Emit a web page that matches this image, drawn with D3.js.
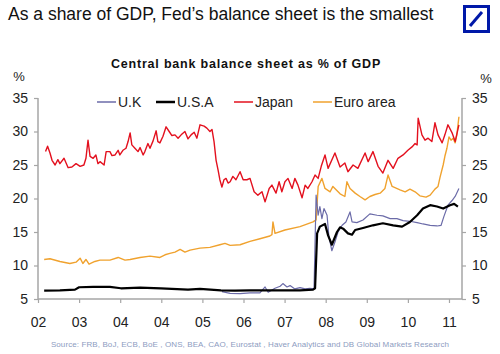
<!DOCTYPE html>
<html>
<head>
<meta charset="utf-8">
<script src="https://cdn.jsdelivr.net/npm/d3@7"></script>
<style>
  body { margin: 0; background: #fff; }
  text { font-family: "Liberation Sans", Arial, sans-serif; }
</style>
</head>
<body>
<div id="chart-area"></div>
<script>
const MARGIN = { LEFT: 38, RIGHT: 38, TOP: 98, BOTTOM: 55 }
const WIDTH = 500 - MARGIN.LEFT - MARGIN.RIGHT
const HEIGHT = 354 - MARGIN.TOP - MARGIN.BOTTOM

// months since start of axis, value in % of GDP
const tickLabels = ["02", "03", "04", "04", "05", "06", "07", "08", "09", "10", "11"]
const yTicks = [5, 10, 15, 20, 25, 30, 35]

const japan = [
  [2.2, 27.0], [2.8, 27.8], [3.5, 26.8], [4.1, 25.7], [5.0, 25.0], [5.8, 25.8], [6.4, 25.2], [7.6, 26.0],
  [8.8, 24.6], [9.9, 24.7], [11.1, 25.2], [12.3, 24.8], [13.4, 25.0], [14.0, 26.0], [14.6, 28.7], [15.2, 26.3],
  [16.1, 26.0], [16.9, 26.5], [17.5, 25.2], [18.1, 25.5], [19.3, 25.0], [19.9, 27.0], [21.0, 27.0], [21.6, 26.4],
  [22.5, 26.5], [23.4, 27.2], [23.9, 26.5], [24.8, 27.2], [25.7, 27.5], [26.3, 28.5], [26.9, 29.8], [27.4, 28.0],
  [28.3, 27.5], [29.2, 27.0], [29.8, 27.6], [30.7, 26.5], [31.2, 27.0], [32.1, 28.2], [32.7, 27.5], [33.6, 28.6],
  [34.5, 30.1], [35.0, 28.5], [35.6, 28.3], [36.5, 29.3], [37.4, 30.7], [38.3, 30.0], [39.1, 29.4], [40.0, 29.5],
  [40.9, 29.0], [41.8, 29.5], [42.9, 30.0], [43.8, 28.9], [44.7, 29.5], [45.6, 29.9], [46.4, 29.0], [47.3, 31.0],
  [48.5, 30.8], [49.3, 30.5], [50.2, 30.0], [50.8, 30.3], [51.4, 28.5], [52.0, 25.7], [52.6, 24.2], [53.1, 22.8],
  [53.7, 21.7], [54.3, 22.8], [54.9, 23.0], [55.5, 22.3], [56.1, 22.5], [56.9, 23.3], [57.8, 22.8], [59.0, 24.0],
  [59.9, 22.8], [61.0, 22.8], [61.9, 23.0], [63.1, 21.0], [64.2, 20.5], [65.4, 21.0], [66.3, 19.5], [67.5, 21.5],
  [68.3, 22.0], [69.5, 20.8], [70.4, 22.5], [71.2, 21.0], [72.1, 22.5], [73.0, 23.0], [74.2, 21.5], [75.0, 23.0],
  [75.9, 22.0], [77.1, 20.1], [78.0, 22.0], [78.8, 21.5], [80.0, 22.5], [80.9, 23.5], [81.8, 23.0], [82.7, 24.8],
  [83.8, 26.5], [84.7, 24.5], [86.7, 26.8], [88.2, 24.7], [89.6, 25.3], [90.5, 24.0], [92.0, 25.0], [93.4, 24.5],
  [95.5, 26.8], [96.4, 25.5], [97.8, 27.0], [99.3, 24.8], [100.7, 23.8], [102.2, 25.7], [103.7, 24.5], [105.1, 26.0],
  [106.6, 26.5], [108.0, 27.2], [109.2, 27.7], [110.1, 28.2], [110.7, 28.0], [111.0, 32.0], [112.1, 29.5], [113.0, 28.7],
  [113.9, 29.0], [115.0, 28.5], [115.9, 31.3], [116.8, 29.5], [118.0, 28.3], [118.8, 29.5], [119.7, 31.0], [120.9, 29.8],
  [121.8, 28.5], [122.9, 31.0]
]

const euro = [
  [1.8, 10.9], [3.5, 11.0], [6.4, 10.6], [9.3, 10.3], [11.1, 10.5], [12.3, 11.1], [13.1, 10.3], [14.0, 10.9],
  [14.9, 10.2], [16.6, 10.6], [18.1, 10.8], [21.0, 10.8], [23.4, 11.2], [25.4, 10.8], [26.9, 10.9], [29.8, 11.2],
  [32.7, 11.4], [35.6, 11.2], [37.1, 11.6], [38.5, 11.8], [40.0, 12.0], [41.5, 12.4], [42.9, 12.0], [44.4, 12.3],
  [47.3, 12.6], [50.2, 12.7], [53.1, 13.1], [54.6, 13.3], [56.1, 13.0], [59.0, 13.1], [61.9, 13.6], [64.8, 14.0],
  [67.7, 14.4], [68.3, 14.6], [68.6, 16.5], [69.2, 14.8], [72.1, 15.3], [76.5, 15.8], [80.3, 16.5], [81.2, 16.8],
  [81.8, 21.8], [82.9, 23.0], [83.8, 21.5], [85.3, 21.0], [86.1, 21.8], [88.2, 20.7], [89.6, 20.3], [90.2, 22.5],
  [91.1, 21.5], [92.6, 20.8], [94.0, 20.3], [95.5, 19.8], [96.9, 20.3], [98.4, 20.6], [99.9, 20.8], [101.3, 21.5],
  [102.2, 23.5], [103.4, 21.8], [105.7, 21.3], [107.2, 21.0], [108.6, 21.4], [110.1, 21.0], [111.5, 20.4], [113.3, 20.2],
  [114.5, 20.5], [115.9, 21.4], [116.8, 21.8], [117.4, 23.2], [118.3, 25.0], [118.8, 26.3], [119.4, 27.5], [120.0, 29.2],
  [120.6, 28.7], [121.2, 29.0], [121.8, 28.3], [122.3, 29.5], [122.9, 32.2]
]

const usa = [
  [1.8, 6.25], [6.4, 6.3], [10.8, 6.4], [12.0, 6.75], [16.1, 6.8], [21.0, 6.8], [24.2, 6.6], [29.8, 6.7],
  [35.9, 6.6], [43.8, 6.4], [47.3, 6.5], [53.4, 6.3], [57.5, 6.25], [61.9, 6.3], [70.7, 6.3], [76.5, 6.3],
  [80.3, 6.4], [80.9, 6.6], [81.5, 14.8], [82.3, 15.8], [83.8, 16.2], [84.7, 14.5], [85.8, 13.1], [87.3, 15.0],
  [88.2, 15.7], [89.1, 15.5], [90.5, 14.8], [91.7, 14.6], [92.6, 15.3], [94.9, 15.6], [97.8, 16.0], [100.7, 16.3],
  [103.7, 16.0], [106.3, 15.8], [108.6, 16.5], [110.7, 17.5], [112.4, 18.5], [114.5, 19.0], [116.5, 18.8], [118.3, 18.5],
  [120.3, 19.0], [121.5, 19.2], [122.6, 18.8]
]

const uk = [
  [53.7, 6.1], [56.1, 5.85], [59.0, 5.8], [61.9, 5.9], [64.8, 5.9], [66.3, 6.8], [67.2, 6.0], [69.2, 6.6],
  [70.7, 6.9], [71.5, 7.3], [72.7, 6.8], [73.6, 7.0], [75.0, 6.5], [76.5, 6.7], [78.0, 6.5], [79.4, 6.6],
  [80.6, 6.5], [81.2, 20.5], [81.8, 17.5], [82.3, 18.8], [82.9, 17.0], [83.5, 18.5], [84.4, 17.5], [84.9, 14.5],
  [85.8, 12.2], [86.7, 13.5], [87.6, 15.0], [88.8, 16.0], [89.9, 16.5], [91.1, 18.0], [91.7, 16.5], [93.1, 16.4],
  [94.9, 16.8], [96.9, 17.7], [99.0, 17.5], [100.7, 17.4], [102.8, 17.0], [104.8, 17.0], [106.6, 16.7], [108.6, 16.6],
  [110.7, 16.4], [112.4, 16.2], [114.5, 16.0], [116.5, 15.9], [117.7, 16.0], [118.5, 17.3], [119.7, 19.0], [120.9, 19.7],
  [121.8, 20.3], [122.9, 21.5]
]

const series = [
  { name: "Euro area", data: euro, color: "#f0a22e", width: 1.4 },
  { name: "Japan", data: japan, color: "#e3101e", width: 1.4 },
  { name: "U.K", data: uk, color: "#6b6ba8", width: 1.2 },
  { name: "U.S.A", data: usa, color: "#000000", width: 2.2 }
]
const legendOrder = ["U.K", "U.S.A", "Japan", "Euro area"]

const svg0 = d3.select("#chart-area").append("svg")
  .attr("width", 500)
  .attr("height", 354)

const svg = svg0.append("g")
  .attr("transform", `translate(${MARGIN.LEFT},${MARGIN.TOP})`)

// titles
svg0.append("text")
  .attr("x", 8).attr("y", 20)
  .style("font-size", "17.5px")
  .style("fill", "#111")
  .text("As a share of GDP, Fed\u2019s balance sheet is the smallest")

// DB logo
const logo = svg0.append("g").attr("transform", "translate(463,5)")
logo.append("rect").attr("x", 1.5).attr("y", 1.5).attr("width", 24).attr("height", 25)
  .attr("fill", "none").attr("stroke", "#0018a8").attr("stroke-width", 3)
logo.append("line").attr("x1", 7).attr("y1", 21).attr("x2", 19).attr("y2", 7)
  .attr("stroke", "#0018a8").attr("stroke-width", 3)

svg0.append("text")
  .attr("x", 246).attr("y", 68)
  .attr("text-anchor", "middle")
  .style("font-size", "12.5px")
  .style("font-weight", "bold")
  .style("letter-spacing", "0.8px")
  .style("fill", "#111")
  .text("Central bank balance sheet as % of GDP")

svg0.append("text").attr("x", 19).attr("y", 81).attr("text-anchor", "middle")
  .style("font-size", "13px").style("fill", "#222").text("%")
svg0.append("text").attr("x", 486).attr("y", 83).attr("text-anchor", "middle")
  .style("font-size", "13px").style("fill", "#222").text("%")

// scales
const x = d3.scaleLinear().domain([0, 123.8]).range([0, WIDTH])
const y = d3.scaleLinear().domain([5, 35]).range([HEIGHT, 0])

// axes
const axisColor = "#a6a6a6"
const xAxis = svg.append("g")
  .attr("transform", `translate(0,${HEIGHT})`)
  .call(d3.axisBottom(x).tickValues(d3.range(0, 121, 12)).tickSize(4).tickPadding(14)
    .tickFormat((d, i) => tickLabels[i]))
const yLeft = svg.append("g")
  .call(d3.axisLeft(y).tickValues(yTicks).tickSize(4).tickPadding(6))
const yRight = svg.append("g")
  .attr("transform", `translate(${WIDTH},0)`)
  .call(d3.axisRight(y).tickValues(yTicks).tickSize(4).tickPadding(6))

;[xAxis, yLeft, yRight].forEach(g => {
  g.select(".domain").attr("stroke", axisColor).attr("stroke-width", 1.5)
  g.selectAll(".tick line").attr("stroke", axisColor).attr("stroke-width", 1.2)
  g.selectAll(".tick text").style("font-size", "14px").style("fill", "#222")
    .style("font-family", "'Liberation Sans', Arial, sans-serif")
})
xAxis.select(".domain").attr("d", `M0,0H${WIDTH}`)
yLeft.select(".domain").attr("d", `M0,0V${HEIGHT}`)
yRight.select(".domain").attr("d", `M0,0V${HEIGHT}`)

// lines
const line = d3.line().x(d => x(d[0])).y(d => y(d[1]))
svg.selectAll(".series")
  .data(series)
  .join("path")
  .attr("class", "series")
  .attr("d", d => line(d.data))
  .attr("fill", "none")
  .attr("stroke", d => d.color)
  .attr("stroke-width", d => d.width)
  .attr("stroke-linejoin", "round")

// legend
const legendX = [97, 156, 234, 313]
const legend = svg0.append("g").attr("transform", "translate(0,102)")
legendOrder.forEach((name, i) => {
  const s = series.find(d => d.name === name)
  const g = legend.append("g").attr("transform", `translate(${legendX[i]},0)`)
  g.append("line").attr("x1", 0).attr("x2", 19).attr("y1", 0).attr("y2", 0)
    .attr("stroke", s.color).attr("stroke-width", name === "U.S.A" ? 2.5 : 1.5)
  g.append("text").attr("x", 21).attr("y", 5)
    .style("font-size", "14px").style("fill", "#222").text(name)
})

// source
svg0.append("text")
  .attr("x", 250).attr("y", 347)
  .attr("text-anchor", "middle")
  .style("font-size", "8px")
  .style("letter-spacing", "0.1px")
  .style("fill", "#8d9cbf")
  .text("Source: FRB, BoJ, ECB, BoE , ONS, BEA, CAO, Eurostat , Haver  Analytics  and DB Global Markets Research")
</script>
</body>
</html>
